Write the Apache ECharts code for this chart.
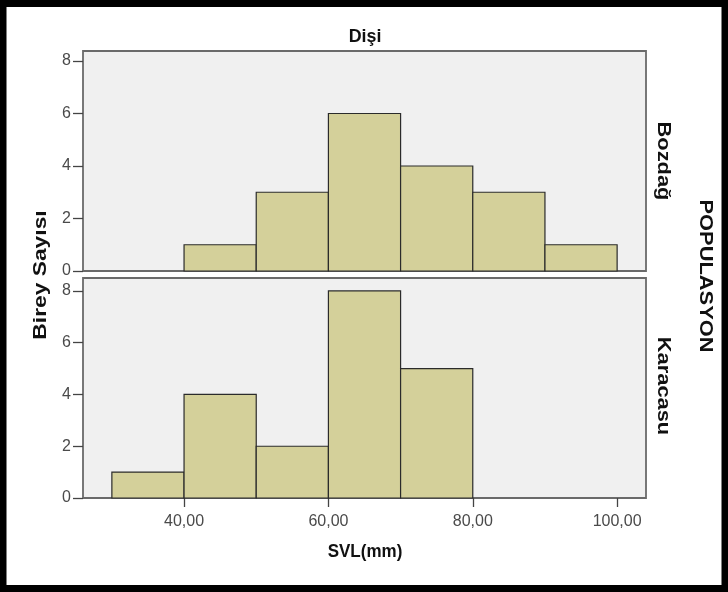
<!DOCTYPE html>
<html>
<head>
<meta charset="utf-8">
<script src="https://cdn.jsdelivr.net/npm/echarts@6/dist/echarts.min.js"></script>
<style>
  html, body { margin: 0; padding: 0; background: #fff; }
  #chart { width: 728px; height: 592px; }
</style>
</head>
<body>
<div id="chart"></div>
<script>
// SVL histogram bins (mm), 10 mm wide
const binStarts = [30, 40, 50, 60, 70, 80, 90];
const binWidth = 10;
// Female counts per bin, by population
const bozdagCounts = [0, 1, 3, 6, 4, 3, 1];
const karacasuCounts = [1, 4, 2, 8, 5, 0, 0];
const populations = ['Bozdağ', 'Karacasu'];
const xTicks = [40, 60, 80, 100];
const yTicks = [0, 2, 4, 6, 8];

const FONT = '"Liberation Sans", Arial, sans-serif';

function toBins(counts) {
  return binStarts.map((s, i) => [s, s + binWidth, counts[i]]).filter(d => d[2] > 0);
}

function histSeries(idx, counts) {
  return {
    type: 'custom',
    xAxisIndex: idx,
    yAxisIndex: idx,
    data: toBins(counts),
    encode: { x: [0, 1], y: 2 },
    renderItem: function (params, api) {
      const p0 = api.coord([api.value(0), api.value(2)]);
      const p1 = api.coord([api.value(1), 0]);
      return {
        type: 'rect',
        shape: { x: p0[0], y: p0[1], width: p1[0] - p0[0], height: p1[1] - p0[1] },
        style: { fill: '#d4d09a', stroke: '#2b2b2b', lineWidth: 1.2 }
      };
    }
  };
}

const panelTop = [51, 278];
const panelHeight = 220;
const yMax = [8.38, 8.5];

const grids = panelTop.map(t => ({
  left: 83, right: 82, top: t, height: panelHeight,
  show: true, backgroundColor: '#f0f0f0', borderColor: '#6a6a6a', borderWidth: 1.8
}));

const xAxes = [0, 1].map(i => ({
  type: 'value', gridIndex: i, min: 26, max: 104,
  splitLine: { show: false },
  axisLine: { show: false },
  axisTick: { show: i === 1, length: 9, customValues: xTicks, lineStyle: { color: '#444', width: 1.3 } },
  axisLabel: {
    show: i === 1, customValues: xTicks, color: '#4a4a4a', fontFamily: FONT, fontSize: 16, margin: 16,
    formatter: v => v.toFixed(2).replace('.', ',')
  }
}));

const yAxes = [0, 1].map(i => ({
  type: 'value', gridIndex: i, min: 0, max: yMax[i],
  splitLine: { show: false },
  axisLine: { show: false },
  axisTick: { show: true, length: 10, customValues: yTicks, lineStyle: { color: '#444', width: 1.3 } },
  axisLabel: { customValues: yTicks, color: '#4a4a4a', fontFamily: FONT, fontSize: 16, margin: 12 }
}));

// bold caption; stretch lengthens the text along its own baseline, tall raises its height
const boldText = (txt, x, y, rot, size, stretch, tall) => ({
  type: 'text', x: x, y: y, rotation: rot, scaleX: stretch || 1, scaleY: tall || 1,
  style: { text: txt, font: 'bold ' + size + 'px ' + FONT, fill: '#111', align: 'center', verticalAlign: 'middle' }
});

const chart = echarts.init(document.getElementById('chart'), null, { renderer: 'canvas' });
chart.setOption({
  animation: false,
  backgroundColor: '#fff',
  grid: grids,
  xAxis: xAxes,
  yAxis: yAxes,
  series: [histSeries(0, bozdagCounts), histSeries(1, karacasuCounts)],
  graphic: [
    // frame round the figure
    { type: 'rect', shape: { x: 3, y: 3.5, width: 722, height: 585 },
      style: { fill: 'none', stroke: '#000', lineWidth: 7 } },
    boldText('Dişi', 365, 37, 0, 17, 1.05, 1.12),
    boldText('SVL(mm)', 365, 552, 0, 17, 1, 1.12),
    boldText('Birey Sayısı', 41, 275, Math.PI / 2, 19, 1.2, 1),
    boldText(populations[0], 663, 161, -Math.PI / 2, 19, 1.15, 1),
    boldText(populations[1], 663, 386, -Math.PI / 2, 19, 1.15, 1),
    boldText('POPULASYON', 705, 276, -Math.PI / 2, 19, 1.15, 1)
  ]
});
</script>
</body>
</html>
